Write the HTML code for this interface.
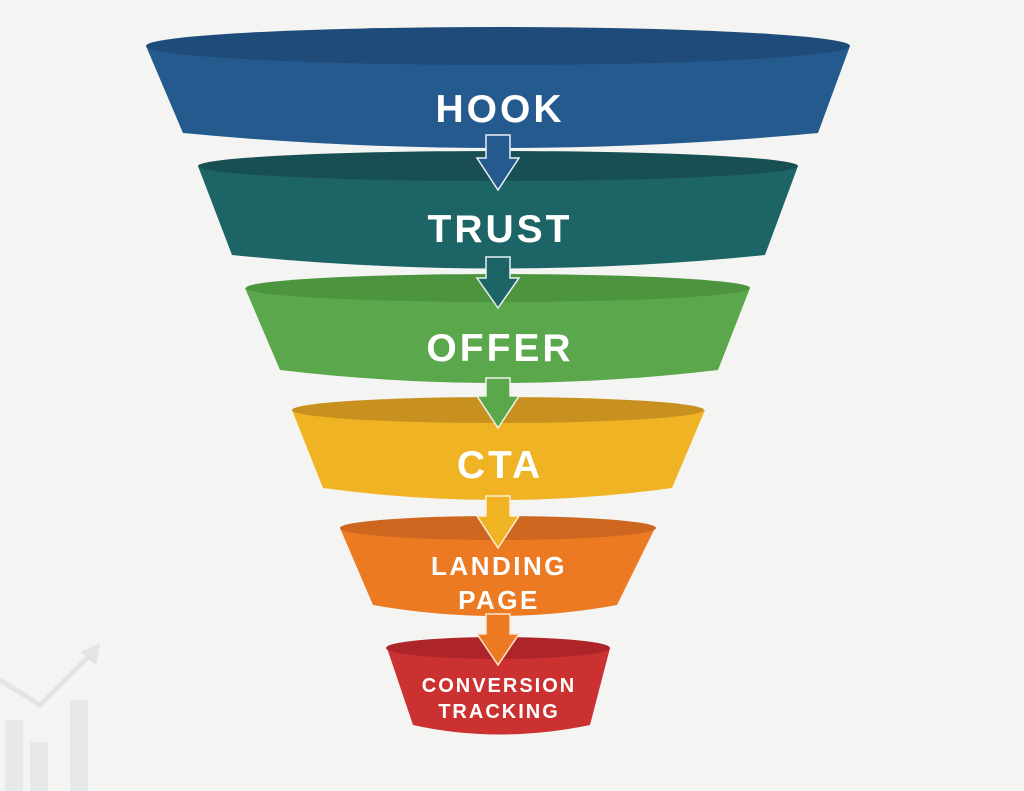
<!DOCTYPE html>
<html><head><meta charset="utf-8"><style>
html,body{margin:0;padding:0;background:#f4f4f3;}
svg{display:block}
text{font-family:"Liberation Sans",sans-serif;font-weight:bold;fill:#fff;text-anchor:middle}
</style></head><body>
<svg width="1024" height="791" viewBox="0 0 1024 791" xmlns="http://www.w3.org/2000/svg">
<rect width="1024" height="791" fill="#f4f4f3"/>
<!-- faint chart -->
<g fill="#e6e8ea">
<rect x="5" y="720" width="18" height="71"/>
<rect x="30" y="742" width="18" height="49"/>
<rect x="70" y="700" width="18" height="91"/>
</g>
<polyline points="0,680 40,705 95,650" fill="none" stroke="#e2e4e6" stroke-width="5"/>
<polygon points="100,643 80,652 96,665" fill="#e2e4e6"/>

<!-- Layer 1 -->
<path d="M146,46 L183,133 Q498,163 818,133 L850,46 Z" fill="#255a8e"/>
<ellipse cx="498" cy="46" rx="352" ry="19" fill="#1f4b7a"/>
<text x="500" y="122" font-size="39" letter-spacing="3">HOOK</text>

<!-- Layer 2 -->
<path d="M198,166 L232,255 Q498,282 765,255 L798,166 Z" fill="#1d6467"/>
<ellipse cx="498" cy="166" rx="300" ry="15" fill="#174f53"/>
<path d="M486,135 L510,135 L510,158 L519,158 L498,190 L477,158 L486,158 Z" fill="#255a8e" stroke="#e8eef4" stroke-width="1.5"/>
<text x="500" y="242" font-size="39" letter-spacing="3">TRUST</text>

<!-- Layer 3 -->
<path d="M245,288 L280,370 Q498,396 718,370 L750,288 Z" fill="#5aa84b"/>
<ellipse cx="498" cy="288" rx="252" ry="14" fill="#4d943f"/>
<path d="M486,257 L510,257 L510,278 L519,278 L498,308 L477,278 L486,278 Z" fill="#1d6467" stroke="#e8eef4" stroke-width="1.5"/>
<text x="500" y="361" font-size="39" letter-spacing="3">OFFER</text>

<!-- Layer 4 -->
<path d="M292,410 L323,488 Q498,512 672,488 L705,410 Z" fill="#f0b324"/>
<ellipse cx="498" cy="410" rx="206" ry="13" fill="#c8911f"/>
<path d="M486,378 L510,378 L510,396 L519,396 L498,428 L477,396 L486,396 Z" fill="#5aa84b" stroke="#eef4ea" stroke-width="1.5"/>
<text x="500" y="478" font-size="39" letter-spacing="3">CTA</text>

<!-- Layer 5 -->
<path d="M340,528 L373,605 Q498,627 617,605 L655,528 Z" fill="#ec7a22"/>
<ellipse cx="498" cy="528" rx="158" ry="12" fill="#cd661f"/>
<path d="M486,496 L510,496 L510,516 L519,516 L498,548 L477,516 L486,516 Z" fill="#f0b324" stroke="#fbf0d4" stroke-width="1.5"/>
<text x="499" y="575" font-size="26" letter-spacing="2.5">LANDING</text>
<text x="499" y="609" font-size="26" letter-spacing="2.5">PAGE</text>

<!-- Layer 6 -->
<path d="M387,648 L413,725 Q498,744 590,725 L610,648 Z" fill="#cc3131"/>
<ellipse cx="498" cy="648" rx="112" ry="11" fill="#ae2529"/>
<path d="M486,614 L510,614 L510,634 L519,634 L498,665 L477,634 L486,634 Z" fill="#ec7a22" stroke="#fbe2cc" stroke-width="1.5"/>
<text x="499" y="692" font-size="20" letter-spacing="2">CONVERSION</text>
<text x="499" y="718" font-size="20" letter-spacing="2">TRACKING</text>
</svg>
</body></html>
